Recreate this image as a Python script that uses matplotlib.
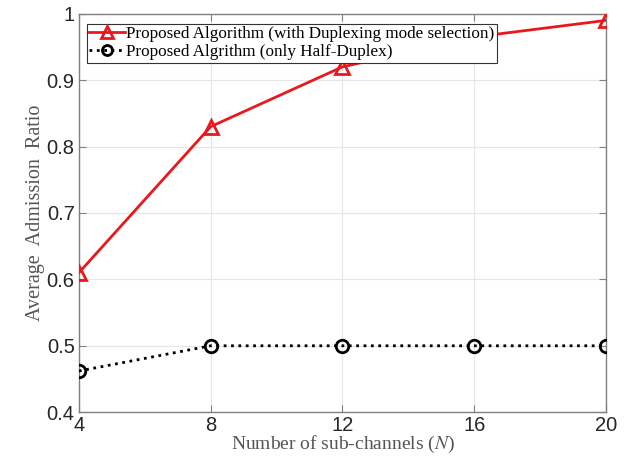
import matplotlib
matplotlib.use("Agg")
import matplotlib.pyplot as plt

# dati
sub_channels = [4, 8, 12, 16, 20]
ratio_duplex = [0.61, 0.83, 0.92, 0.965, 0.99]
ratio_half = [0.462, 0.50, 0.50, 0.50, 0.50]

label_duplex = "Proposed Algorithm (with Duplexing mode selection)"
label_half = "Proposed Algrithm (only Half-Duplex)"

plt.rcParams["mathtext.fontset"] = "stix"

fig = plt.figure(figsize=(6.26, 4.59), dpi=100)
ax = fig.add_axes([0.126, 0.102, 0.842, 0.868])

ax.plot(sub_channels, ratio_duplex, color="#e8191c", lw=2, marker="^",
        markersize=10, markerfacecolor="none", markeredgewidth=2,
        label=label_duplex, zorder=3)
ax.plot(sub_channels, ratio_half, color="black", lw=2, ls=":", marker="o",
        markersize=9, markerfacecolor="none", markeredgewidth=2,
        label=label_half, zorder=3)

ax.set_xlim(4, 20)
ax.set_ylim(0.4, 1.0)
ax.set_xticks(sub_channels)
ax.set_yticks([0.4, 0.5, 0.6, 0.7, 0.8, 0.9, 1.0])
ax.set_yticklabels(["0.4", "0.5", "0.6", "0.7", "0.8", "0.9", "1"])

ax.grid(True, color="#e6e6e6", lw=0.8)
ax.set_axisbelow(True)
for s in ax.spines.values():
    s.set_color("#808080")
    s.set_linewidth(1)
ax.tick_params(direction="in", top=True, right=True, length=5, color="#808080",
               labelsize=14.5, labelcolor="#262626", pad=3)
for t in ax.get_xticklabels() + ax.get_yticklabels():
    t.set_family("Liberation Sans")

ax.set_xlabel("Number of sub-channels ($N$)", family="Liberation Serif",
              fontsize=14, color="#555555", labelpad=-1)
ax.set_ylabel("Average  Admission  Ratio", family="Liberation Serif",
              fontsize=14.5, color="#555555", labelpad=1)

leg = ax.legend(loc="upper left", bbox_to_anchor=(0.015, 0.975),
                prop={"family": "Liberation Serif", "size": 12.3},
                frameon=True, fancybox=False, edgecolor="#333333",
                framealpha=1, borderpad=0.15, labelspacing=0.1,
                handlelength=2.1, handletextpad=0.05, borderaxespad=0,
                markerscale=0.8)
leg.get_frame().set_linewidth(0.8)
leg.set_zorder(5)

fig.savefig("out.png", dpi=100)
